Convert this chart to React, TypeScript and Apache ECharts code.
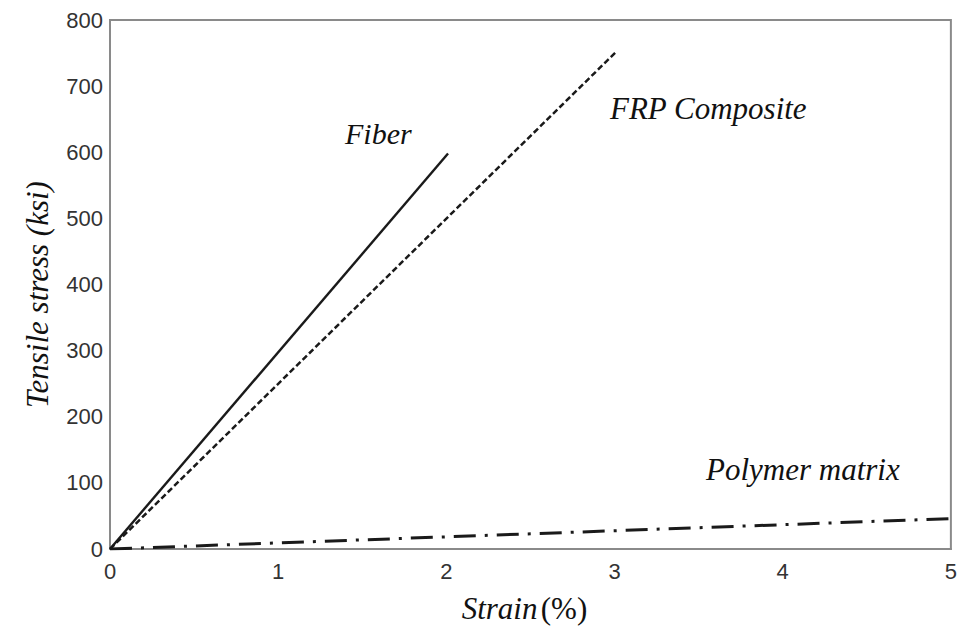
import React, { useEffect, useRef } from "react";
import * as echarts from "echarts";

const xTicks = [0, 1, 2, 3, 4, 5];
const yTicks = [0, 100, 200, 300, 400, 500, 600, 700, 800];

const fiberStrain = [0, 2.01];
const fiberStress = [0, 598];

const frpStrain = [0, 3.01];
const frpStress = [0, 752];

const polymerStrain = [0, 5];
const polymerStress = [0, 46];

const labels = ["Fiber", "FRP Composite", "Polymer matrix"];

const zip = (a: number[], b: number[]) => a.map((v, i) => [v, b[i]]);

export default function App() {
  const ref = useRef<HTMLDivElement>(null);
  useEffect(() => {
    document.body.style.margin = "0";
    if (!ref.current) return;
    const chart = echarts.init(ref.current, null, { renderer: "svg" });
    const serif = "'Liberation Serif', 'Times New Roman', serif";
    const sans = "'Liberation Sans', Arial, sans-serif";
    chart.setOption({
      animation: false,
      backgroundColor: "#ffffff",
      grid: {
        left: 110,
        right: 3,
        top: 20,
        bottom: 76,
        show: true,
        borderColor: "#8a8a8a",
        borderWidth: 2,
      },
      xAxis: {
        type: "value",
        min: xTicks[0],
        max: xTicks[xTicks.length - 1],
        interval: 1,
        axisLine: { show: true, lineStyle: { color: "#8a8a8a", width: 2 } },
        axisTick: { show: false },
        splitLine: { show: false },
        axisLabel: { color: "#333", fontFamily: sans, fontSize: 22, margin: 11 },
        name: "{i|Strain} {n|(%)}",
        nameLocation: "middle",
        nameGap: 44,
        nameTextStyle: {
          padding: [0, 12, 0, 0],
          rich: {
            i: { fontFamily: serif, fontStyle: "italic", fontSize: 31, color: "#111" },
            n: { fontFamily: serif, fontSize: 31, color: "#111" },
          },
        },
      },
      yAxis: {
        type: "value",
        min: yTicks[0],
        max: yTicks[yTicks.length - 1],
        interval: 100,
        axisLine: { show: true, lineStyle: { color: "#8a8a8a", width: 2 } },
        axisTick: { show: false },
        splitLine: { show: false },
        axisLabel: { color: "#333", fontFamily: sans, fontSize: 22, margin: 7 },
        name: "Tensile stress (ksi)",
        nameLocation: "middle",
        nameRotate: 90,
        nameGap: 57,
        nameTextStyle: {
          fontFamily: serif,
          fontStyle: "italic",
          fontSize: 31,
          color: "#111",
          padding: [0, 20, 0, 0],
        },
      },
      series: [
        {
          name: labels[0],
          type: "line",
          data: zip(fiberStrain, fiberStress),
          symbol: "none",
          lineStyle: { color: "#1a1a1a", width: 2.4, type: "solid" },
        },
        {
          name: labels[1],
          type: "line",
          data: zip(frpStrain, frpStress),
          symbol: "none",
          lineStyle: { color: "#1a1a1a", width: 2.5, type: [6, 3] },
        },
        {
          name: labels[2],
          type: "line",
          data: zip(polymerStrain, polymerStress),
          symbol: "none",
          lineStyle: { color: "#1a1a1a", width: 3, type: [22, 9, 3, 9] },
        },
      ],
      graphic: [
        {
          type: "text",
          x: 345,
          y: 133,
          style: {
            text: labels[0],
            font: `italic 30px ${serif}`,
            fill: "#111",
            verticalAlign: "middle",
          },
        },
        {
          type: "text",
          x: 610,
          y: 108,
          style: {
            text: labels[1],
            font: `italic 31px ${serif}`,
            fill: "#111",
            verticalAlign: "middle",
          },
        },
        {
          type: "text",
          x: 706,
          y: 469,
          style: {
            text: labels[2],
            font: `italic 31px ${serif}`,
            fill: "#111",
            verticalAlign: "middle",
          },
        },
      ],
    });
    return () => chart.dispose();
  }, []);
  return <div ref={ref} style={{ width: 960, height: 629 }} />;
}
